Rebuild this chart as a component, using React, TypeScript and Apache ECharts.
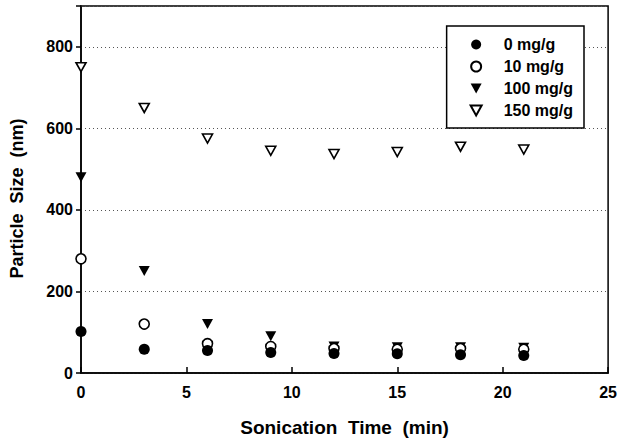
import React, { useEffect, useRef } from "react";
import * as echarts from "echarts";

const times = [0, 3, 6, 9, 12, 15, 18, 21];
const s0 = [102, 58, 55, 50, 48, 47, 45, 43];
const s10 = [280, 120, 72, 65, 60, 58, 60, 58];
const s100 = [480, 250, 120, 90, 65, 63, 63, 62];
const s150 = [750, 650, 575, 545, 537, 542, 555, 548];
const seriesNames = ["0 mg/g", "10 mg/g", "100 mg/g", "150 mg/g"];

const downTri = "path://M0,0 L10,0 L5,9 Z";
const FONT = "'Liberation Sans', Arial, sans-serif";

export default function App() {
  const ref = useRef<HTMLDivElement>(null);
  useEffect(() => {
    if (!ref.current) return;
    const chart = echarts.init(ref.current, undefined, { renderer: "svg" });
    const pair = (v: number[]) => times.map((t, i) => [t, v[i]]);
    const mk = (name: string, data: number[], symbol: string, size: number | number[], filled: boolean, z: number) => ({
      name,
      type: "scatter",
      data: pair(data),
      symbol,
      symbolSize: size,
      z,
      itemStyle: {
        color: filled ? "#000" : "#fff",
        borderColor: "#000",
        borderWidth: filled ? 0 : 1.6,
        opacity: 1,
      },
    });
    chart.setOption({
      animation: false,
      backgroundColor: "#fff",
      textStyle: { fontFamily: FONT },
      grid: { left: 81, right: 10, top: 6, bottom: 69, show: true, borderColor: "#000", borderWidth: 1.5 },
      legend: {
        orient: "vertical",
        right: 36,
        top: 26,
        padding: [10, 11, 9, 23],
        itemGap: 5,
        itemWidth: 11,
        itemHeight: 10,
        borderColor: "#000",
        borderWidth: 1.5,
        backgroundColor: "#fff",
        data: seriesNames,
        textStyle: {
          fontFamily: FONT,
          fontWeight: "bold",
          fontSize: 16,
          lineHeight: 17,
          color: "#000",
          padding: [0, 0, 0, 17],
        },
      },
      xAxis: {
        type: "value",
        min: 0,
        max: 25,
        interval: 5,
        name: "Sonication  Time  (min)",
        nameLocation: "middle",
        nameGap: 45,
        nameTextStyle: { fontFamily: FONT, fontWeight: "bold", fontSize: 19, color: "#000" },
        axisLine: { lineStyle: { color: "#000", width: 1.5 } },
        axisTick: { inside: true, length: 6, lineStyle: { color: "#000", width: 1.5 } },
        axisLabel: { fontFamily: FONT, fontWeight: "bold", fontSize: 16, color: "#000", margin: 11 },
        splitLine: { show: false },
      },
      yAxis: {
        type: "value",
        min: 0,
        max: 900,
        interval: 200,
        name: "Particle  Size  (nm)",
        nameLocation: "middle",
        nameGap: 55,
        nameTextStyle: {
          fontFamily: FONT,
          fontWeight: "bold",
          fontSize: 18,
          color: "#000",
          padding: [0, 18, 0, 0],
        },
        axisLine: { lineStyle: { color: "#000", width: 1.5 } },
        axisTick: { length: 5, lineStyle: { color: "#000", width: 1.5 } },
        axisLabel: {
          fontFamily: FONT,
          fontWeight: "bold",
          fontSize: 16,
          color: "#000",
          margin: 8,
          formatter: (v: number) => (v % 200 === 0 && v <= 800 ? String(v) : ""),
        },
        splitLine: { show: true, lineStyle: { color: "#555", type: [1, 3], width: 1 } },
      },
      series: [
        mk(seriesNames[3], s150, downTri, [10, 9], false, 2),
        mk(seriesNames[2], s100, downTri, [11, 10], true, 3),
        mk(seriesNames[1], s10, "circle", 10, false, 4),
        mk(seriesNames[0], s0, "circle", 11, true, 5),
      ],
    });
    return () => chart.dispose();
  }, []);
  return <div ref={ref} style={{ position: "fixed", left: 0, top: 0, width: 620, height: 442 }} />;
}
